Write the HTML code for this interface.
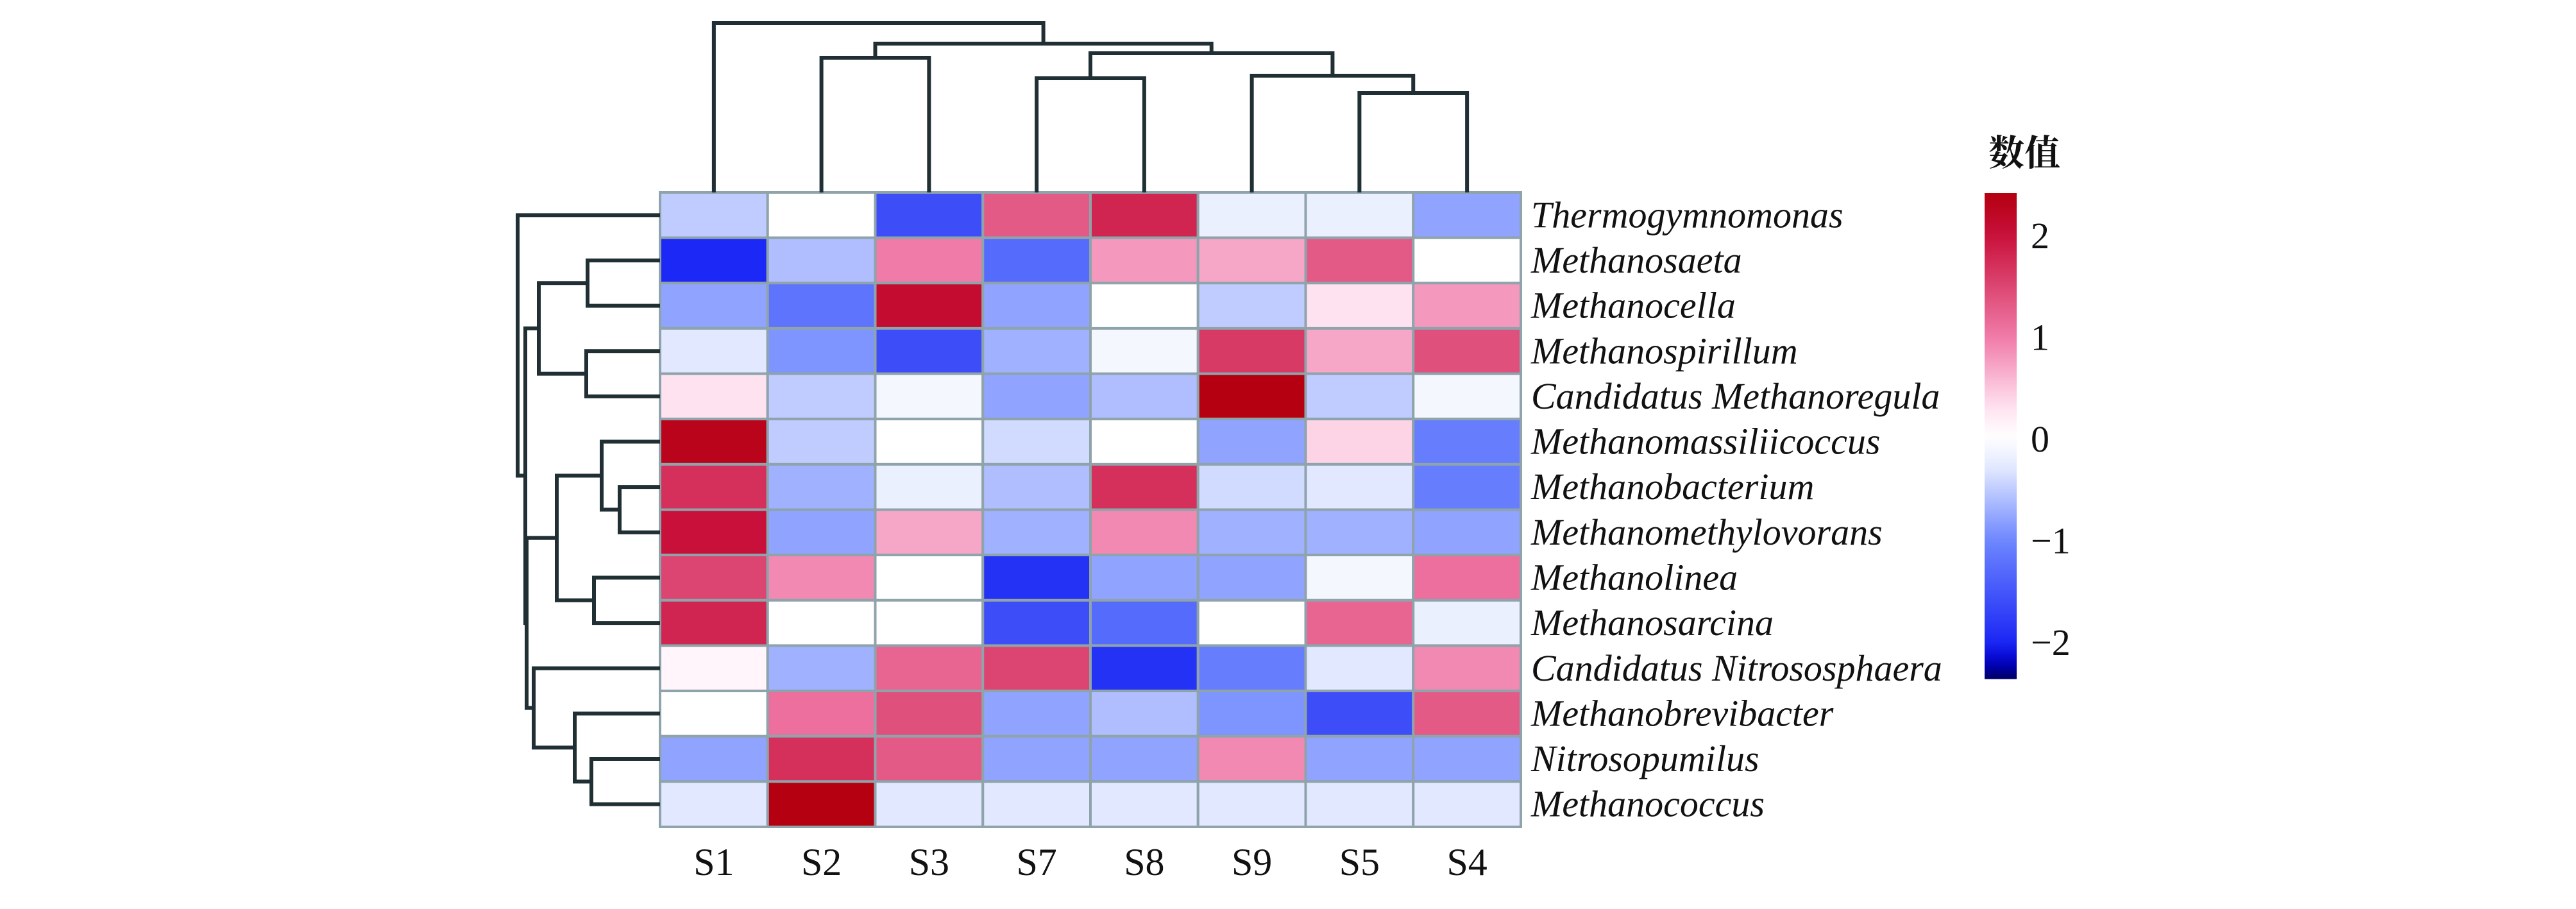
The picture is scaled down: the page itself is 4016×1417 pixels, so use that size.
<!DOCTYPE html>
<html><head><meta charset="utf-8">
<style>
html,body{margin:0;padding:0;background:#fff;}
svg{display:block;}
text{font-family:"Liberation Serif","Noto Serif CJK SC",serif;fill:#111;}
</style></head>
<body>
<svg id="chart" width="4016" height="1417" viewBox="0 0 4016 1417" xmlns="http://www.w3.org/2000/svg">
<defs>
<linearGradient id="lg" x1="0" y1="1" x2="0" y2="0"></linearGradient>
</defs>
<g id="cells"></g>
<g id="rowDendro"></g>
<g id="colDendro"></g>
<g id="rowLabels"></g>
<g id="colLabels"></g>
<g id="legend"></g>
</svg>
<script>
const columns = ["S1","S2","S3","S7","S8","S9","S5","S4"];
const rowsNames = ["Thermogymnomonas","Methanosaeta","Methanocella","Methanospirillum","Candidatus Methanoregula","Methanomassiliicoccus","Methanobacterium","Methanomethylovorans","Methanolinea","Methanosarcina","Candidatus Nitrososphaera","Methanobrevibacter","Nitrosopumilus","Methanococcus"];
const values = [
 [-0.5, 0, -1.6, 1.3, 1.8, -0.2, -0.2, -0.8],
 [-2.0, -0.6, 1.0, -1.3, 0.8, 0.7, 1.3, 0],
 [-0.8, -1.2, 2.1, -0.8, 0, -0.5, 0.3, 0.8],
 [-0.3, -0.9, -1.6, -0.7, -0.1, 1.6, 0.7, 1.4],
 [0.3, -0.5, -0.1, -0.8, -0.6, 2.4, -0.5, -0.1],
 [2.3, -0.5, 0, -0.4, 0, -0.8, 0.4, -1.1],
 [1.7, -0.7, -0.2, -0.6, 1.7, -0.4, -0.3, -1.1],
 [2.0, -0.8, 0.7, -0.7, 0.9, -0.7, -0.7, -0.8],
 [1.5, 0.9, 0, -1.9, -0.8, -0.8, -0.1, 1.1],
 [1.8, 0, 0, -1.6, -1.3, 0, 1.2, -0.2],
 [0.1, -0.7, 1.2, 1.5, -1.9, -1.1, -0.3, 0.9],
 [0, 1.1, 1.4, -0.8, -0.6, -0.9, -1.6, 1.3],
 [-0.8, 1.7, 1.3, -0.8, -0.8, 0.9, -0.8, -0.8],
 [-0.3, 2.4, -0.3, -0.3, -0.3, -0.3, -0.3, -0.3]
];
const colMerges = [[6,7,15.5],[5,8,18.2],[3,4,17.8],[10,9,21.7],[1,2,21],[12,11,23.2],[0,13,26.4]];
const rowMerges = [[6,7,6.3],[5,14,9.1],[8,9,10.3],[15,16,16.1],[1,2,11.3],[3,4,11.5],[18,19,18.9],[12,13,10.7],[11,21,13.3],[10,22,19.7],[17,23,20.8],[20,24,21.0],[0,25,22.2]];
const legendTicks = [2,1,0,-1,-2];

const svg = document.getElementById('chart');
const NS = "http://www.w3.org/2000/svg";
const HX0=1029, HX1=2371, HY0=300, HY1=1289;
const cw=(HX1-HX0)/columns.length, rh=(HY1-HY0)/rowsNames.length;
const colX = i => HX0 + (i+0.5)*cw;
const rowY = i => HY0 + (i+0.5)*rh;
const colH = d => HY0 - d*10;
const rowD = d => HX0 - d*10;
const stops=[[-2.4,[0,0,80]],[-2.2,[0,0,200]],[-2,[28,40,245]],[-1,[110,135,255]],[-0.3,[225,232,255]],[0,[255,255,255]],[0.3,[255,226,240]],[1,[240,122,168]],[2,[200,16,58]],[2.4,[180,0,16]]];
function color(v){
  if(v<=stops[0][0]) return 'rgb('+stops[0][1]+')';
  for(let i=1;i<stops.length;i++){ if(v<=stops[i][0]){ const a=stops[i-1],b=stops[i]; const t=(v-a[0])/(b[0]-a[0]); return 'rgb('+a[1].map((c,k)=>Math.round(c+(b[1][k]-c)*t)).join(',')+')'; } }
  return 'rgb('+stops[stops.length-1][1]+')';
}
function mk(tag, attrs, parent){ const e=document.createElementNS(NS,tag); for(const k in attrs) e.setAttribute(k,attrs[k]); parent.appendChild(e); return e; }

const cells=document.getElementById('cells');
values.forEach((row,r)=>row.forEach((v,c)=>{
  const e=mk('rect',{x:HX0+c*cw,y:HY0+r*rh,width:cw,height:rh,fill:color(v),stroke:'#8fa3ab','stroke-width':4},cells);
  
  
}));

function dendro(merges,n,leafPos,distFn,group,vertical){
  const pos=[],ht=[];
  for(let i=0;i<n;i++){pos.push(leafPos(i));ht.push(0);}
  merges.forEach(m=>{
    const [a,b,d]=m; const p=distFn(d);
    const pa=vertical?colH(ht[a]):rowD(ht[a]);
    const pb=vertical?colH(ht[b]):rowD(ht[b]);
    let dstr;
    if(vertical) dstr=`M${pos[a]},${pa}V${p}H${pos[b]}V${pb}`;
    else dstr=`M${pa},${pos[a]}H${p}V${pos[b]}H${pb}`;
    const e=mk('path',{d:dstr,fill:'none',stroke:'#1f2f33','stroke-width':6},group);
    
    
    pos.push((pos[a]+pos[b])/2); ht.push(d);
  });
}
dendro(colMerges,columns.length,colX,colH,document.getElementById('colDendro'),true);
dendro(rowMerges,rowsNames.length,rowY,rowD,document.getElementById('rowDendro'),false);

const rl=document.getElementById('rowLabels');
rowsNames.forEach((n,i)=>{
  const t=mk('text',{x:2387,y:rowY(i)+19,'font-size':58,'font-style':'italic'},rl);
  t.textContent=n;
  
  
});
const cl=document.getElementById('colLabels');
columns.forEach((n,i)=>{
  const t=mk('text',{x:colX(i),y:1364,'font-size':60,'text-anchor':'middle'},cl);
  t.textContent=n;
  
  
});

const LX=3094, LW=50, LV0=683, LU=158.5, LMIN=-2.37, LMAX=2.41;
const ly = v => LV0 - v*LU;
const lg=document.getElementById('lg');
for(let i=0;i<=40;i++){ const v=LMIN+(LMAX-LMIN)*i/40; mk('stop',{offset:(i/40),'stop-color':color(v)},lg); }
const leg=document.getElementById('legend');
const bar=mk('rect',{x:LX,y:ly(LMAX),width:LW,height:ly(LMIN)-ly(LMAX),fill:'url(#lg)'},leg);


legendTicks.forEach(v=>{
  const t=mk('text',{x:3166,y:ly(v)+21,'font-size':58},leg);
  t.textContent=(v<0?'\u2212':'')+Math.abs(v);
  
  
});
const title=mk('text',{x:3100,y:258,'font-size':56,'font-weight':'bold','font-family':'"Noto Sans CJK SC",sans-serif'},leg);
title.textContent='数值';


</script>
</body></html>
